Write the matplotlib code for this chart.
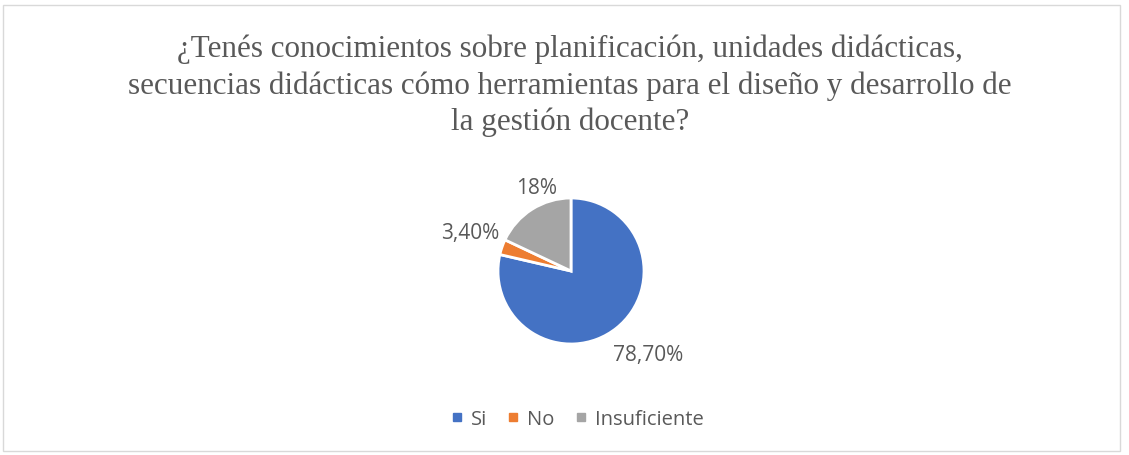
import matplotlib.pyplot as plt
from matplotlib.lines import Line2D
from matplotlib.patches import Rectangle

categories = ["Si", "No", "Insuficiente"]
values = [78.70, 3.40, 18.0]
labels = ["78,70%", "3,40%", "18%"]
colors = ["#4472C4", "#ED7D31", "#A5A5A5"]
title = ("¿Tenés conocimientos sobre planificación, unidades didácticas,\n"
         "secuencias didácticas cómo herramientas para el diseño y desarrollo de\n"
         "la gestión docente?")

W, H = 1129, 456
fig = plt.figure(figsize=(W / 100, H / 100), dpi=100)

# chart frame
fig.patches.append(Rectangle((3 / W, 4 / H), 1117 / W, 446 / H, transform=fig.transFigure,
                             fill=False, edgecolor="#D9D9D9", linewidth=1))

fig.text(570 / W, 1 - 86 / H, title, ha="center", va="center", family="Liberation Serif",
         fontsize=22.4, color="#595959", linespacing=1.3)

# pie: centre (571, 272) px, radius 73 px
cx, cy, r = 571, 272, 73
ax = fig.add_axes([(cx - 2 * r) / W, (H - cy - 2 * r) / H, 4 * r / W, 4 * r / H])
ax.pie(values, colors=colors, startangle=90, counterclock=False, radius=1,
       wedgeprops=dict(edgecolor="white", linewidth=2))
ax.set_xlim(-2, 2)
ax.set_ylim(-2, 2)
ax.axis("off")

label_pos = [(1.06, -1.15), (-1.38, 0.53), (-0.47, 1.15)]
for lab, (x, y) in zip(labels, label_pos):
    ax.text(x, y, lab, ha="center", va="center", fontsize=15, color="#595959",
            family="Open Sans")

handles = [Line2D([], [], marker="s", linestyle="", markersize=6, color=c) for c in colors]
fig.legend(handles, categories, loc="center", bbox_to_anchor=(577 / W, 1 - 420 / H),
           ncol=3, frameon=False, handlelength=0.6, handletextpad=0.4, columnspacing=1.0,
           prop={"family": "Open Sans", "size": 14.5}, labelcolor="#595959")

fig.savefig("out.png", dpi=100)
